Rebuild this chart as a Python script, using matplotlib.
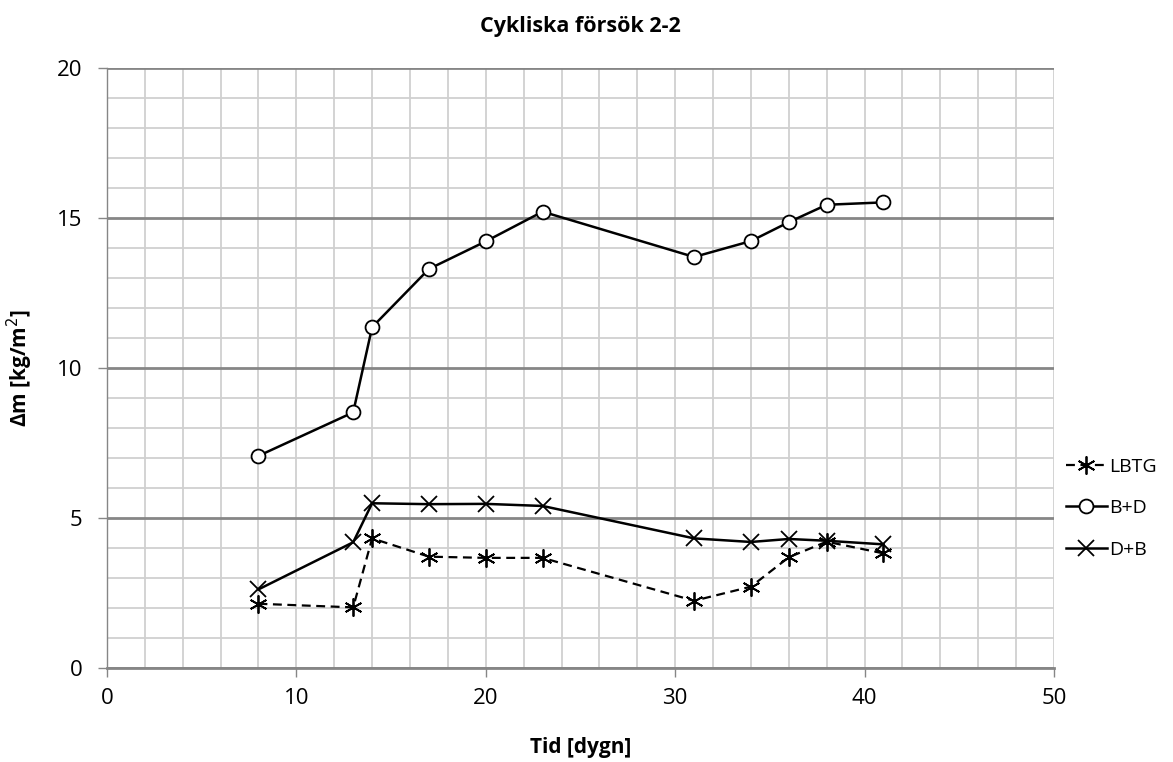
import matplotlib.pyplot as plt
from matplotlib.ticker import MultipleLocator

plt.rcParams['font.family'] = ['Open Sans', 'DejaVu Sans']

# tid i dygn
tid = [8, 13, 14, 17, 20, 23, 31, 34, 36, 38, 41]

# massförlust, kg/m2
lbtg = [2.14, 2.02, 4.32, 3.71, 3.67, 3.67, 2.24, 2.71, 3.69, 4.21, 3.82]
bd = [7.07, 8.52, 11.36, 13.3, 14.22, 15.21, 13.7, 14.23, 14.86, 15.44, 15.52]
db = [2.62, 4.19, 5.49, 5.46, 5.47, 5.4, 4.32, 4.2, 4.3, 4.24, 4.12]

fig = plt.figure(figsize=(11.73, 7.62), dpi=100)
ax = fig.add_axes([0.0912, 0.1234, 0.8073, 0.7874])

ax.set_xlim(0, 50)
ax.set_ylim(0, 20)
ax.xaxis.set_major_locator(MultipleLocator(10))
ax.xaxis.set_minor_locator(MultipleLocator(2))
ax.yaxis.set_major_locator(MultipleLocator(5))
ax.yaxis.set_minor_locator(MultipleLocator(1))

# rutnät
ax.grid(which='minor', axis='both', color='#d0d0d0', lw=1.3)
ax.grid(which='major', axis='x', color='#d0d0d0', lw=1.3)
ax.grid(which='major', axis='y', color='#868686', lw=2)
ax.set_axisbelow(True)

for s in ['top', 'right']:
    ax.spines[s].set_visible(False)
ax.spines['left'].set_color('#868686')
ax.spines['left'].set_linewidth(1)
ax.spines['bottom'].set_color('#868686')
ax.spines['bottom'].set_linewidth(2)

ax.tick_params(which='major', length=6.5, width=1, color='#868686',
               labelsize=16)
ax.tick_params(axis='y', pad=11)
ax.tick_params(axis='x', pad=8)
ax.tick_params(which='minor', length=0)

ax.plot(tid, lbtg, color='black', lw=1.6, ls=(0, (4, 2.5)),
        marker=(6, 2, 0), ms=13, mew=1.3, label='LBTG')
ax.plot(tid, bd, color='black', lw=1.8, marker='o', ms=10,
        mfc='white', mec='black', mew=1.3, label='B+D')
ax.plot(tid, db, color='black', lw=1.8, marker='x', ms=12,
        mew=1.3, label='D+B')

ax.set_title('Cykliska försök 2-2', fontsize=15.5, fontweight='bold', pad=26)
ax.set_xlabel('Tid [dygn]', fontsize=15, fontweight='bold', labelpad=20)
ax.set_ylabel('Δm [kg/m$^2$]', fontsize=15, fontweight='bold', labelpad=16)

ax.legend(loc='center left', bbox_to_anchor=(1066 / 1173, 0.333),
          bbox_transform=fig.transFigure, frameon=False,
          fontsize=14, handlelength=2.1, handletextpad=0.1,
          labelspacing=1.2, borderpad=0, borderaxespad=0)

fig.savefig('out.png', dpi=100)
